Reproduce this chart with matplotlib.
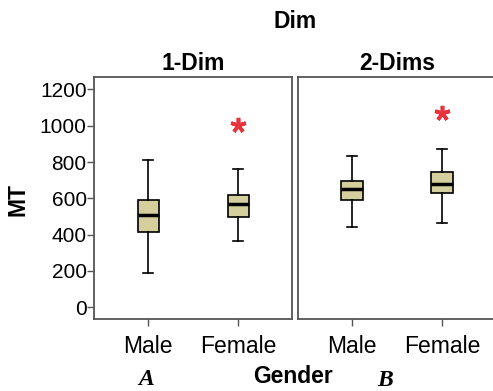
import matplotlib.pyplot as plt

# Box statistics (MT by Gender, per Dim panel)
panels = ["1-Dim", "2-Dims"]
genders = ["Male", "Female"]
whis_lo = [[189, 363], [445, 465]]
q1 = [[414, 500], [593, 628]]
med = [[509, 571], [654, 681]]
q3 = [[592, 619], [698, 747]]
whis_hi = [[811, 764], [833, 872]]
outliers = [[[], [1004]], [[], [1071]]]

plt.rcParams['font.family'] = ['Liberation Sans', 'DejaVu Sans']

fig = plt.figure(figsize=(4.93, 3.91), dpi=100)
ax1 = fig.add_axes([0.1913, 0.1834, 0.4016, 0.6204])
ax2 = fig.add_axes([0.605, 0.1834, 0.4016, 0.6204])

frame_col = "#555555"
box_col = "#d4cf9c"

for i, ax in enumerate([ax1, ax2]):
    stats = []
    for j in range(2):
        stats.append(dict(med=med[i][j], q1=q1[i][j], q3=q3[i][j],
                          whislo=whis_lo[i][j], whishi=whis_hi[i][j],
                          fliers=outliers[i][j], label=genders[j]))
    ax.bxp(stats, positions=[0, 1], widths=0.24, patch_artist=True,
           boxprops=dict(facecolor=box_col, edgecolor="black", linewidth=1.2),
           medianprops=dict(color="black", linewidth=2.5),
           whiskerprops=dict(color="black", linewidth=1.2),
           capprops=dict(color="black", linewidth=1.2),
           capwidths=0.11,
           flierprops=dict(marker=(5, 2, 0), markersize=11, markeredgewidth=2.6,
                           markeredgecolor="#e8323c", markerfacecolor="#e8323c"))
    ax.set_xlim(-0.6, 1.6)
    ax.set_ylim(-66, 1270)
    ax.set_xticks([0, 1])
    ax.set_xticklabels(genders, fontsize=16.5)
    ax.tick_params(axis="x", length=5, width=1, color=frame_col, pad=6)
    for s in ax.spines.values():
        s.set_color(frame_col)
        s.set_linewidth(1.3)
    ax.set_title(panels[i], fontsize=16.5, fontweight="bold", pad=5)

ax1.set_yticks(range(0, 1201, 200))
ax1.tick_params(axis="y", length=5, width=1, color=frame_col, labelsize=15, pad=0.5)
ax2.set_yticks([])

fig.text(0.036, 0.49, "MT", fontsize=16.5, fontweight="bold", rotation=90,
         ha="center", va="center")
fig.text(0.598, 0.944, "Dim", fontsize=16.5, fontweight="bold", ha="center", va="center")
fig.text(0.594, 0.036, "Gender", fontsize=16.5, fontweight="bold", ha="center", va="center")
fig.text(0.297, 0.029, "A", fontsize=17, fontweight="bold", style="italic",
         family="Liberation Serif", ha="center", va="center")
fig.text(0.781, 0.027, "B", fontsize=17, fontweight="bold", style="italic",
         family="Liberation Serif", ha="center", va="center")

fig.savefig("out.png", dpi=100)
